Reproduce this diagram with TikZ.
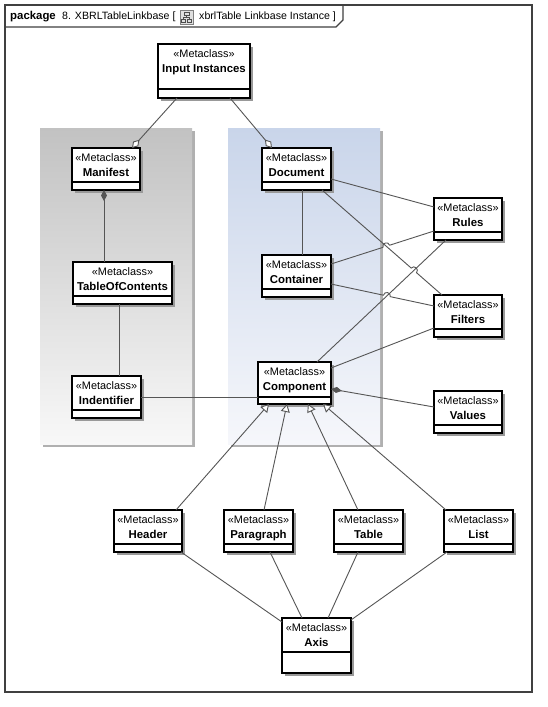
\documentclass[tikz,border=0pt]{standalone}
\usepackage{fontspec}
\setmainfont{Liberation Sans}
\usetikzlibrary{arrows.meta,calc,intersections}
\definecolor{conncol}{HTML}{555555}
\definecolor{framecol}{HTML}{404040}
\definecolor{graytop}{HTML}{C2C2C2}
\definecolor{graybot}{HTML}{F8F8F8}
\definecolor{bluetop}{HTML}{C9D5EA}
\definecolor{bluebot}{HTML}{F6F7FB}
\definecolor{panelshadow}{HTML}{B0B0B0}
\tikzset{
  classbox/.style={draw=black, line width=1.1pt, fill=white, inner sep=0pt, outer sep=0pt},
  stereo/.style={font=\fontsize{10.9}{12}\selectfont, inner sep=0pt, anchor=base},
  cname/.style={font=\fontsize{11.4}{13}\selectfont\bfseries, inner sep=0pt, anchor=base},
  conn/.style={draw=conncol, line width=0.9pt},
  aggarrow/.style={-{Diamond[fill=white,length=11pt,width=7pt]}},
  compos/.style={-{Diamond[length=11pt,width=6pt]}},
  genarrow/.style={-{Triangle[fill=white,length=8pt,width=9pt]}},
  titletext/.style={anchor=base west, inner sep=0pt, font=\fontsize{10.6}{12}\selectfont},
}
\newcommand\umlmeta[7]{%
  \fill[black!40] ({#2+2.5},{#3+2.5}) rectangle ({#4+2.5},{#5+2.5});
  \node[classbox, minimum width={(#4-#2)*1pt}, minimum height={(#5-#3)*1pt}] (#1) at ({(#2+#4)/2},{(#3+#5)/2}) {};
  \draw[line width=1.1pt] (#2,{#3+#6}) -- (#4,{#3+#6});
  \node[stereo] (#1-s) at ({(#2+#4)/2},{#3+13.5}) {«Metaclass»};
  \node[cname] (#1-n) at ({(#2+#4)/2},{#3+28.5}) {#7};
}
\newcommand\hopline[3]{%
  \coordinate (hA) at ($(#3)!-3.5pt!(#2)$);
  \coordinate (hB) at ($(#3)!3.5pt!(#2)$);
  \coordinate (hC) at ($(hA)!4.6pt!90:(#2)$);
  \coordinate (hD) at ($(hB)!4.6pt!90:(#2)$);
  \draw[conn] (#1) -- (hA) .. controls (hC) and (hD) .. (hB) -- (#2);
}
\begin{document}
\begin{tikzpicture}[x=1pt,y=-1pt]
\useasboundingbox (0,0) rectangle (547,707);
\fill[white] (0,0) rectangle (547,707);
% frame
\draw[framecol, line width=1.2pt] (5,5) rectangle (532,692);
\draw[framecol, line width=1.2pt] (5,27) -- (336,27) -- (343,20) -- (343,5);
\node[titletext, font=\fontsize{11.4}{13}\selectfont\bfseries] (ttl1) at (10,19) {package};
\node[titletext] (ttl2) at (62,19) {8. XBRLTableLinkbase [};
\node[draw=gray, fill=gray!25, line width=0.6pt, minimum width=13pt, minimum height=14pt, inner sep=0pt] (icon) at (186.5,17) {};
\draw[line width=0.5pt, black!70] (184,12) rectangle (189,15) (181.5,19.5) rectangle (185.5,22.5) (187.5,19.5) rectangle (191.5,22.5)
  (186.5,15) -- (186.5,17.3) (183.5,17.3) -- (189.5,17.3) (183.5,17.3) -- (183.5,19.5) (189.5,17.3) -- (189.5,19.5);
\node[titletext] (ttl3) at (199,19) {xbrlTable Linkbase Instance ]};
% panels
\fill[panelshadow] (43,131) rectangle (195,447);
\shade[top color=graytop, bottom color=graybot] (40,128) rectangle (192,444);
\fill[panelshadow] (231,131) rectangle (383,447);
\shade[top color=bluetop, bottom color=bluebot] (228,128) rectangle (380,444);
% classes
\umlmeta{inp}{158}{44}{250}{98}{45}{Input Instances}
\umlmeta{man}{72}{148}{140}{190}{34}{Manifest}
\umlmeta{toc}{73}{262}{172}{304}{34}{TableOfContents}
\umlmeta{ide}{72}{376}{141}{418}{34}{Indentifier}
\umlmeta{doc}{262}{148}{331}{190}{34}{Document}
\umlmeta{con}{262}{255}{331}{297}{34}{Container}
\umlmeta{com}{258}{362}{331}{404}{35}{Component}
\umlmeta{rul}{434}{198}{502}{240}{34}{Rules}
\umlmeta{fil}{434}{295}{502}{337}{34}{Filters}
\umlmeta{val}{434}{391}{502}{433}{34}{Values}
\umlmeta{hea}{114}{510}{182}{552}{34}{Header}
\umlmeta{par}{224}{510}{293}{552}{34}{Paragraph}
\umlmeta{tab}{334}{510}{403}{552}{34}{Table}
\umlmeta{lis}{444}{510}{513}{552}{34}{List}
\umlmeta{axi}{282}{618}{351}{673}{34}{Axis}
% connectors
\draw[conn, aggarrow] ($(inp.south west)+(19,0)$) -- ($(man.north west)+(60,0)$);
\draw[conn, aggarrow] ($(inp.south west)+(72,0)$) -- ($(doc.north west)+(10,0)$);
\draw[conn, compos] ($(toc.north west)+(31,0)$) -- ($(man.south west)+(32,0)$);
\draw[conn] ($(toc.south west)+(46,0)$) -- ($(ide.north west)+(47,0)$);
\draw[conn] (ide.east) -- (ide.east -| com.west);
\draw[conn] ($(doc.south west)+(40,0)$) -- ($(con.north west)+(40,0)$);
\draw[conn] ($(doc.north east)+(0,31)$) -- ($(rul.north west)+(0,9)$);
\coordinate (a8) at ($(doc.south east)+(-9,0)$);
\coordinate (b8) at ($(fil.north west)+(8,0)$);
\coordinate (a9) at ($(con.north east)+(0,9)$);
\coordinate (b9) at ($(rul.south west)+(0,-9)$);
\coordinate (a10) at ($(con.north east)+(0,29)$);
\coordinate (b10) at ($(fil.north west)+(0,11)$);
\coordinate (a11) at ($(com.north west)+(59,0)$);
\coordinate (b11) at ($(rul.south west)+(12,0)$);
\path[name path=lA] (a8) -- (b8);
\path[name path=lB] (a9) -- (b9);
\path[name path=lC] (a10) -- (b10);
\path[name path=lD] (a11) -- (b11);
\path[name intersections={of=lA and lD, by=xAD}];
\path[name intersections={of=lB and lA, by=xBA}];
\path[name intersections={of=lC and lD, by=xCD}];
\draw[conn] (a11) -- (b11);
\hopline{a8}{b8}{xAD}
\hopline{a9}{b9}{xBA}
\hopline{a10}{b10}{xCD}
\draw[conn] ($(com.north east)+(0,6)$) -- ($(fil.south west)+(0,-9)$);
\draw[conn, compos] ($(val.north west)+(0,16)$) -- ($(com.north east)+(0,27)$);
\draw[conn, genarrow] ($(hea.north west)+(62,0)$) -- ($(com.south west)+(11,0)$);
\draw[conn, genarrow] ($(par.north west)+(40,0)$) -- ($(com.south west)+(29,0)$);
\draw[conn, genarrow] ($(tab.north west)+(24,0)$) -- ($(com.south west)+(50,0)$);
\draw[conn, genarrow] ($(lis.north west)+(2,0)$) -- ($(com.south west)+(65,0)$);
\draw[conn] ($(hea.south east)+(-1,0)$) -- ($(axi.north west)+(0,4)$);
\draw[conn] ($(par.south west)+(46,0)$) -- ($(axi.north west)+(20,0)$);
\draw[conn] ($(tab.south west)+(24,0)$) -- ($(axi.north west)+(46,0)$);
\draw[conn] ($(lis.south west)+(3,0)$) -- ($(axi.north east)+(0,2)$);
\end{tikzpicture}
\end{document}
